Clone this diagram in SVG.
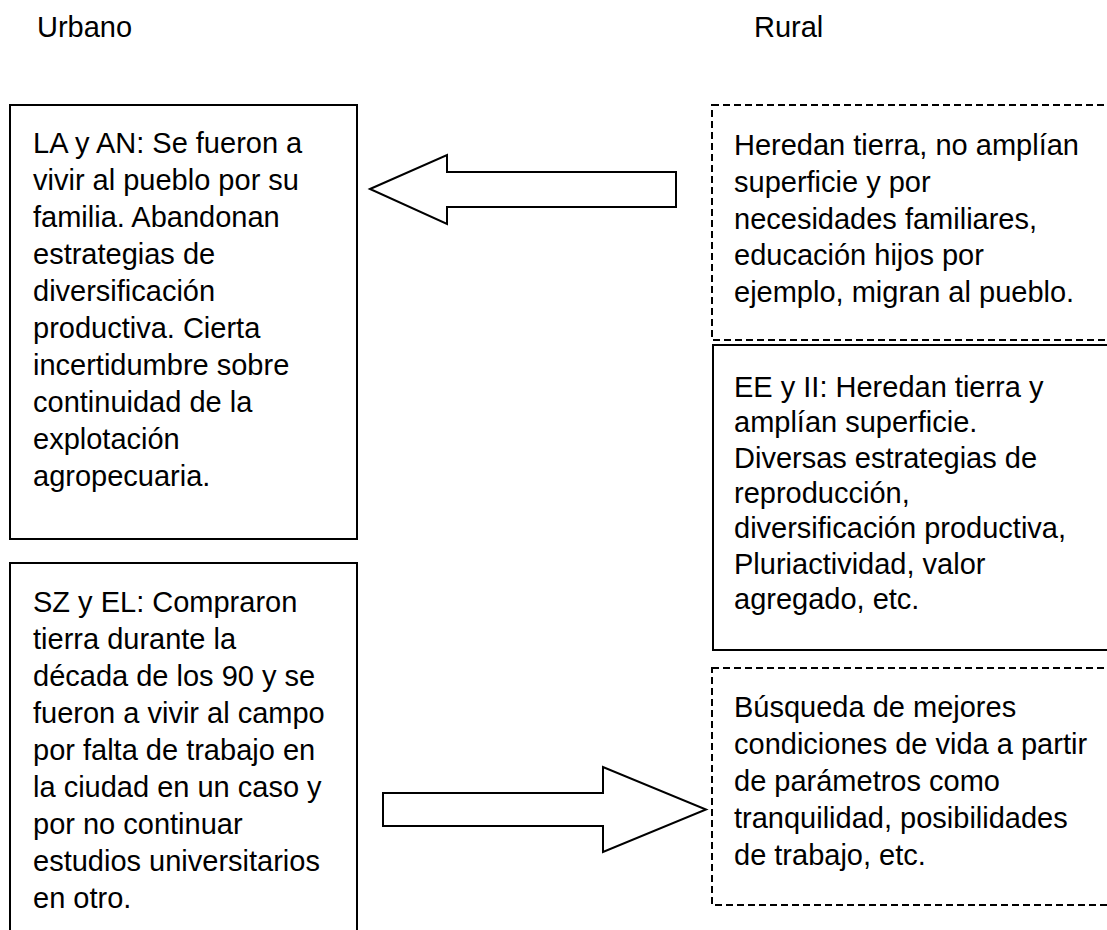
<svg xmlns="http://www.w3.org/2000/svg" width="1107" height="930" viewBox="0 0 1107 930">
<style>
text{font-family:"Liberation Sans",Arial,sans-serif;font-size:29px;fill:#000}
.box{fill:#fff;stroke:#000;stroke-width:2}
.dash{fill:#fff;stroke:#000;stroke-width:2;stroke-dasharray:7,4}
.arrow{fill:#fff;stroke:#000;stroke-width:2;stroke-linejoin:miter}
</style>
<rect width="1107" height="930" fill="#fff"/>
<g id="header-urbano"><text x="37" y="37">Urbano</text></g>
<g id="header-rural"><text x="754" y="37">Rural</text></g>
<g id="node-la-an">
<rect class="box" x="10" y="105" width="347" height="434"/>
<text x="33" y="153">LA y AN: Se fueron a</text>
<text x="33" y="190">vivir al pueblo por su</text>
<text x="33" y="227">familia. Abandonan</text>
<text x="33" y="264">estrategias de</text>
<text x="33" y="301">diversificación</text>
<text x="33" y="338">productiva. Cierta</text>
<text x="33" y="375">incertidumbre sobre</text>
<text x="33" y="412">continuidad de la</text>
<text x="33" y="449">explotación</text>
<text x="33" y="486">agropecuaria.</text>
</g>
<g id="node-sz-el">
<rect class="box" x="10" y="563" width="347" height="400"/>
<text x="33" y="612">SZ y EL: Compraron</text>
<text x="33" y="649">tierra durante la</text>
<text x="33" y="686">década de los 90 y se</text>
<text x="33" y="723">fueron a vivir al campo</text>
<text x="33" y="760">por falta de trabajo en</text>
<text x="33" y="797">la ciudad en un caso y</text>
<text x="33" y="834">por no continuar</text>
<text x="33" y="871">estudios universitarios</text>
<text x="33" y="908">en otro.</text>
</g>
<g id="node-heredan">
<rect class="dash" x="712" y="105" width="420" height="235"/>
<text x="734" y="155">Heredan tierra, no amplían</text>
<text x="734" y="192">superficie y por</text>
<text x="734" y="229">necesidades familiares,</text>
<text x="734" y="265">educación hijos por</text>
<text x="734" y="302">ejemplo, migran al pueblo.</text>
</g>
<g id="node-ee-ii">
<rect class="box" x="713" y="345" width="420" height="305"/>
<text x="734" y="397">EE y II: Heredan tierra y</text>
<text x="734" y="432">amplían superficie.</text>
<text x="734" y="468">Diversas estrategias de</text>
<text x="734" y="503">reproducción,</text>
<text x="734" y="538">diversificación productiva,</text>
<text x="734" y="574">Pluriactividad, valor</text>
<text x="734" y="609">agregado, etc.</text>
</g>
<g id="node-busqueda">
<rect class="dash" x="712" y="668" width="420" height="237"/>
<text x="734" y="717">Búsqueda de mejores</text>
<text x="734" y="754">condiciones de vida a partir</text>
<text x="734" y="791">de parámetros como</text>
<text x="734" y="828">tranquilidad, posibilidades</text>
<text x="734" y="865">de trabajo, etc.</text>
</g>
<g id="connectors">
<polygon class="arrow" points="370,189 447,155 447,172 676,172 676,207 447,207 447,224"/>
<polygon class="arrow" points="383,793 603,793 603,767 706,809.5 603,852 603,826 383,826"/>
</g>
</svg>
